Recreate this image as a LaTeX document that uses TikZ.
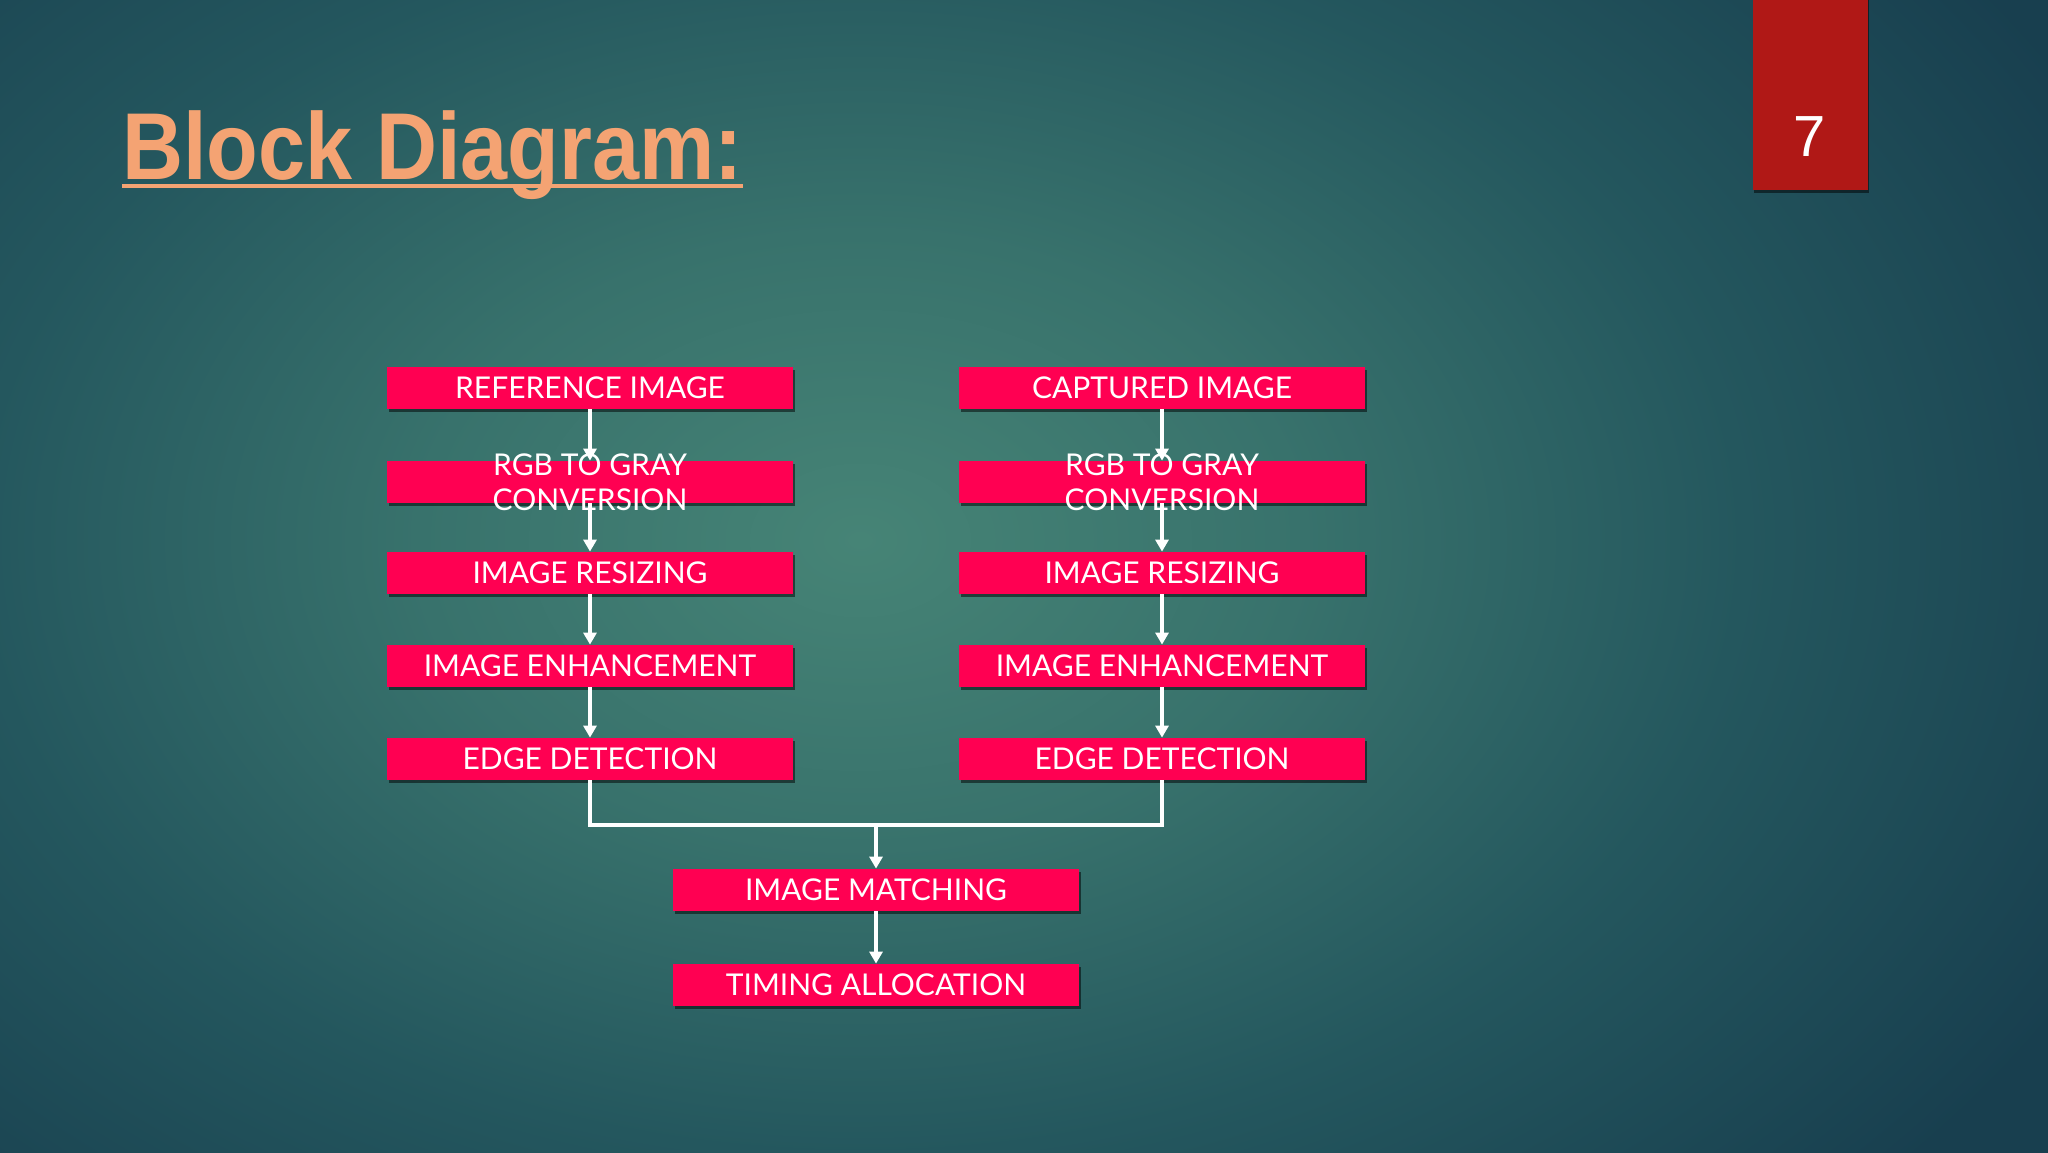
\documentclass[tikz,border=0pt]{standalone}
\usepackage{fontspec}
\usetikzlibrary{arrows.meta,shadows,positioning}
\newfontfamily\titlefont[FakeStretch=0.89]{Liberation Sans Bold}
\newfontfamily\boxfont{Lato}
\newfontfamily\numfont{Liberation Sans}
\definecolor{bgin}{RGB}{70,132,118}
\definecolor{bgmid}{RGB}{56,114,108}
\definecolor{bgmid2}{RGB}{36,87,94}
\definecolor{bgout}{RGB}{24,63,79}
\definecolor{boxred}{RGB}{255,0,82}
\definecolor{numred}{RGB}{176,24,22}
\definecolor{titleor}{RGB}{244,163,115}
\pgfdeclareradialshading{bgshade}{\pgfpoint{0bp}{0bp}}{color(0bp)=(bgin); color(8bp)=(bgmid); color(16bp)=(bgmid2); color(25bp)=(bgout); color(50bp)=(bgout)}
\tikzset{
  blockbox/.style={draw=none, fill=boxred, minimum width=203pt, minimum height=21pt, inner sep=0pt,
    text=white, font=\boxfont\fontsize{15}{17.5}\selectfont,
    drop shadow={shadow xshift=1.2pt, shadow yshift=-1.6pt, opacity=0.5, fill=black}},
  flow/.style={draw=white, line width=2pt},
  flowarr/.style={flow, -{Triangle[width=6.5pt,length=6pt]}},
}
\begin{document}
\begin{tikzpicture}[x=0.5pt,y=-0.5pt]
\useasboundingbox (0,0) rectangle (2048,1152);
\fill[bgout] (-10,-10) rectangle (2058,1162);
\begin{scope}
\clip (-10,-10) rectangle (2058,1162);
\shade[shading=bgshade] (860,540) ellipse[x radius=1380, y radius=960];
\end{scope}
% title
\node (title) [anchor=base west, inner sep=0pt, text=titleor, font=\titlefont\fontsize{47.5}{50}\selectfont] at (122,179) {Block Diagram:};
\draw[titleor, line width=1.6pt] (title.base west |- 0,186) coordinate (ul1) -- (title.base east |- 0,186) coordinate (ul2);
% page number
\node (numbox) [anchor=north, fill=numred, minimum width=57.5pt, minimum height=100pt, inner sep=0pt,
  drop shadow={shadow xshift=0.5pt, shadow yshift=-1.5pt, opacity=0.5, fill=black}] at (1810.5,-10) {};
\node (seven) [text=white, font=\numfont\fontsize{29}{30}\selectfont, inner sep=0pt] at (1810,137) {7};
% left column
\node (l1) [blockbox] at (590,388) {REFERENCE IMAGE};
\node (l2) [blockbox, label={[name=l2t, text=white, font=\boxfont\fontsize{15}{17.5}\selectfont, align=center, inner sep=0pt]center:RGB TO GRAY\\CONVERSION}] at (590,482) {};
\node (l3) [blockbox] at (590,573) {IMAGE RESIZING};
\node (l4) [blockbox] at (590,666) {IMAGE ENHANCEMENT};
\node (l5) [blockbox] at (590,759) {EDGE DETECTION};
% right column
\node (r1) [blockbox] at (1162,388) {CAPTURED IMAGE};
\node (r2) [blockbox, label={[name=r2t, text=white, font=\boxfont\fontsize{15}{17.5}\selectfont, align=center, inner sep=0pt]center:RGB TO GRAY\\CONVERSION}] at (1162,482) {};
\node (r3) [blockbox] at (1162,573) {IMAGE RESIZING};
\node (r4) [blockbox] at (1162,666) {IMAGE ENHANCEMENT};
\node (r5) [blockbox] at (1162,759) {EDGE DETECTION};
% bottom
\node (m) [blockbox] at (876,890) {IMAGE MATCHING};
\node (t) [blockbox] at (876,985) {TIMING ALLOCATION};
% connectors
\foreach \a/\b in {l1/l2,l2/l3,l3/l4,l4/l5,r1/r2,r2/r3,r3/r4,r4/r5,m/t}
  \draw[flowarr] (\a.south) -- (\b.north);
\coordinate (j) at (876,825);
\draw[flow] (l5.south) |- (j) -| (r5.south);
\draw[flowarr] (j) -- (m.north);
\end{tikzpicture}
\end{document}
